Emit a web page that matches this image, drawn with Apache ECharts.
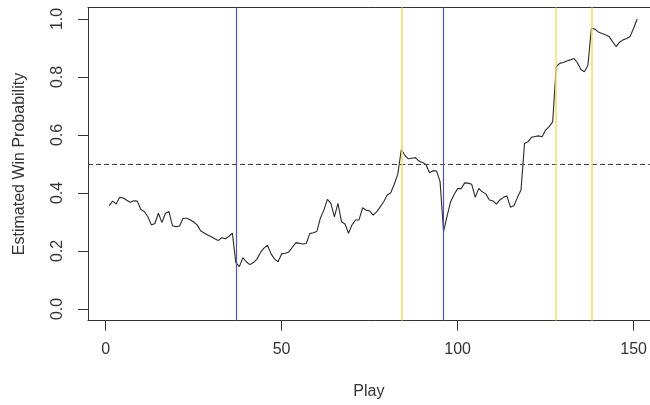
<!DOCTYPE html>
<html>
<head>
<meta charset="utf-8">
<script src="https://cdn.jsdelivr.net/npm/echarts@6/dist/echarts.min.js"></script>
<style>html,body{margin:0;padding:0;background:#fff}#c{width:650px;height:405px}</style>
</head>
<body>
<div id="c"></div>
<script>
// Data
const winProb = [
  0.356,0.372,0.362,0.385,0.383,0.375,0.368,0.373,0.372,0.343,
  0.336,0.318,0.290,0.295,0.330,0.298,0.330,0.336,0.287,0.284,
  0.286,0.313,0.313,0.308,0.300,0.290,0.270,0.262,0.255,0.249,
  0.242,0.236,0.246,0.242,0.250,0.262,0.160,0.146,0.177,0.162,
  0.153,0.160,0.172,0.195,0.210,0.220,0.190,0.172,0.163,0.190,
  0.192,0.196,0.212,0.228,0.227,0.224,0.226,0.260,0.263,0.267,
  0.313,0.341,0.378,0.364,0.318,0.364,0.301,0.293,0.261,0.290,
  0.307,0.307,0.349,0.341,0.338,0.324,0.335,0.352,0.370,0.393,
  0.401,0.430,0.465,0.550,0.530,0.518,0.520,0.522,0.510,0.505,
  0.498,0.470,0.477,0.476,0.440,0.267,0.320,0.370,0.395,0.415,
  0.415,0.435,0.434,0.430,0.385,0.416,0.404,0.397,0.376,0.373,
  0.362,0.376,0.385,0.390,0.351,0.356,0.385,0.410,0.571,0.577,
  0.592,0.595,0.597,0.594,0.617,0.629,0.645,0.836,0.847,0.850,
  0.855,0.859,0.864,0.850,0.826,0.818,0.840,0.968,0.965,0.955,
  0.950,0.946,0.940,0.922,0.905,0.920,0.928,0.933,0.940,0.968,
  1.000
];
const plays = winProb.map((_, i) => i + 1);
const blueLines = [37, 96];
const yellowLines = [84, 128, 138];
const refLevel = [0.5];
const xTicks = [0, 50, 100, 150];
const yTicks = [0, 0.2, 0.4, 0.6, 0.8, 1.0];

const font = 'Liberation Sans, Arial, sans-serif';
const txt = '#333';
const chart = echarts.init(document.getElementById('c'), null, {renderer: 'canvas'});
chart.setOption({
  animation: false,
  backgroundColor: '#fff',
  grid: {left: 88, top: 7.4, right: 0, bottom: 84.4, show: false},
  xAxis: [{
    type: 'value', min: -5, max: 154.6, position: 'bottom',
    name: 'Play', nameLocation: 'middle', nameGap: 63,
    nameTextStyle: {fontFamily: font, fontSize: 16, color: txt},
    axisLine: {show: true, onZero: false, lineStyle: {color: '#333'}},
    axisTick: {show: true, length: 10, customValues: xTicks, lineStyle: {color: '#333'}},
    axisLabel: {customValues: xTicks, margin: 21, fontFamily: font, fontSize: 16, color: txt},
    splitLine: {show: false}
  }, {
    type: 'value', min: -5, max: 154.6, position: 'top',
    axisLine: {show: true, onZero: false, lineStyle: {color: '#333'}},
    axisTick: {show: false}, axisLabel: {show: false}, splitLine: {show: false}
  }],
  yAxis: {
    type: 'value', min: -0.04, max: 1.04,
    name: 'Estimated Win Probability', nameLocation: 'middle', nameGap: 60, nameRotate: 90,
    nameTextStyle: {fontFamily: font, fontSize: 16, color: txt},
    axisLine: {show: true, onZero: false, lineStyle: {color: '#333'}},
    axisTick: {show: true, length: 10, customValues: yTicks, lineStyle: {color: '#333'}},
    axisLabel: {customValues: yTicks, rotate: 90, align: 'center', verticalAlign: 'bottom', margin: 22,
      fontFamily: font, fontSize: 16, color: txt, formatter: v => v.toFixed(1)},
    splitLine: {show: false}
  },
  series: [
    {
      type: 'line', data: plays.map((p, i) => [p, winProb[i]]),
      showSymbol: false, symbol: 'none', silent: true,
      lineStyle: {color: '#2a2a2a', width: 1.1}, z: 2
    },
    {
      type: 'line', data: [], silent: true, z: 3,
      markLine: {symbol: 'none', silent: true, label: {show: false},
        lineStyle: {color: '#444', width: 1.1, type: [5, 3]},
        data: refLevel.map(v => ({yAxis: v}))}
    },
    {
      type: 'line', data: [], silent: true, z: 4,
      markLine: {symbol: 'none', silent: true, label: {show: false},
        lineStyle: {color: '#5252b0', width: 1.2, type: 'solid'},
        data: blueLines.map(v => ({xAxis: v}))}
    },
    {
      type: 'line', data: [], silent: true, z: 4,
      markLine: {symbol: 'none', silent: true, label: {show: false},
        lineStyle: {color: '#eee060', width: 1.5, type: 'solid'},
        data: yellowLines.map(v => ({xAxis: v}))}
    }
  ]
});
</script>
</body>
</html>
